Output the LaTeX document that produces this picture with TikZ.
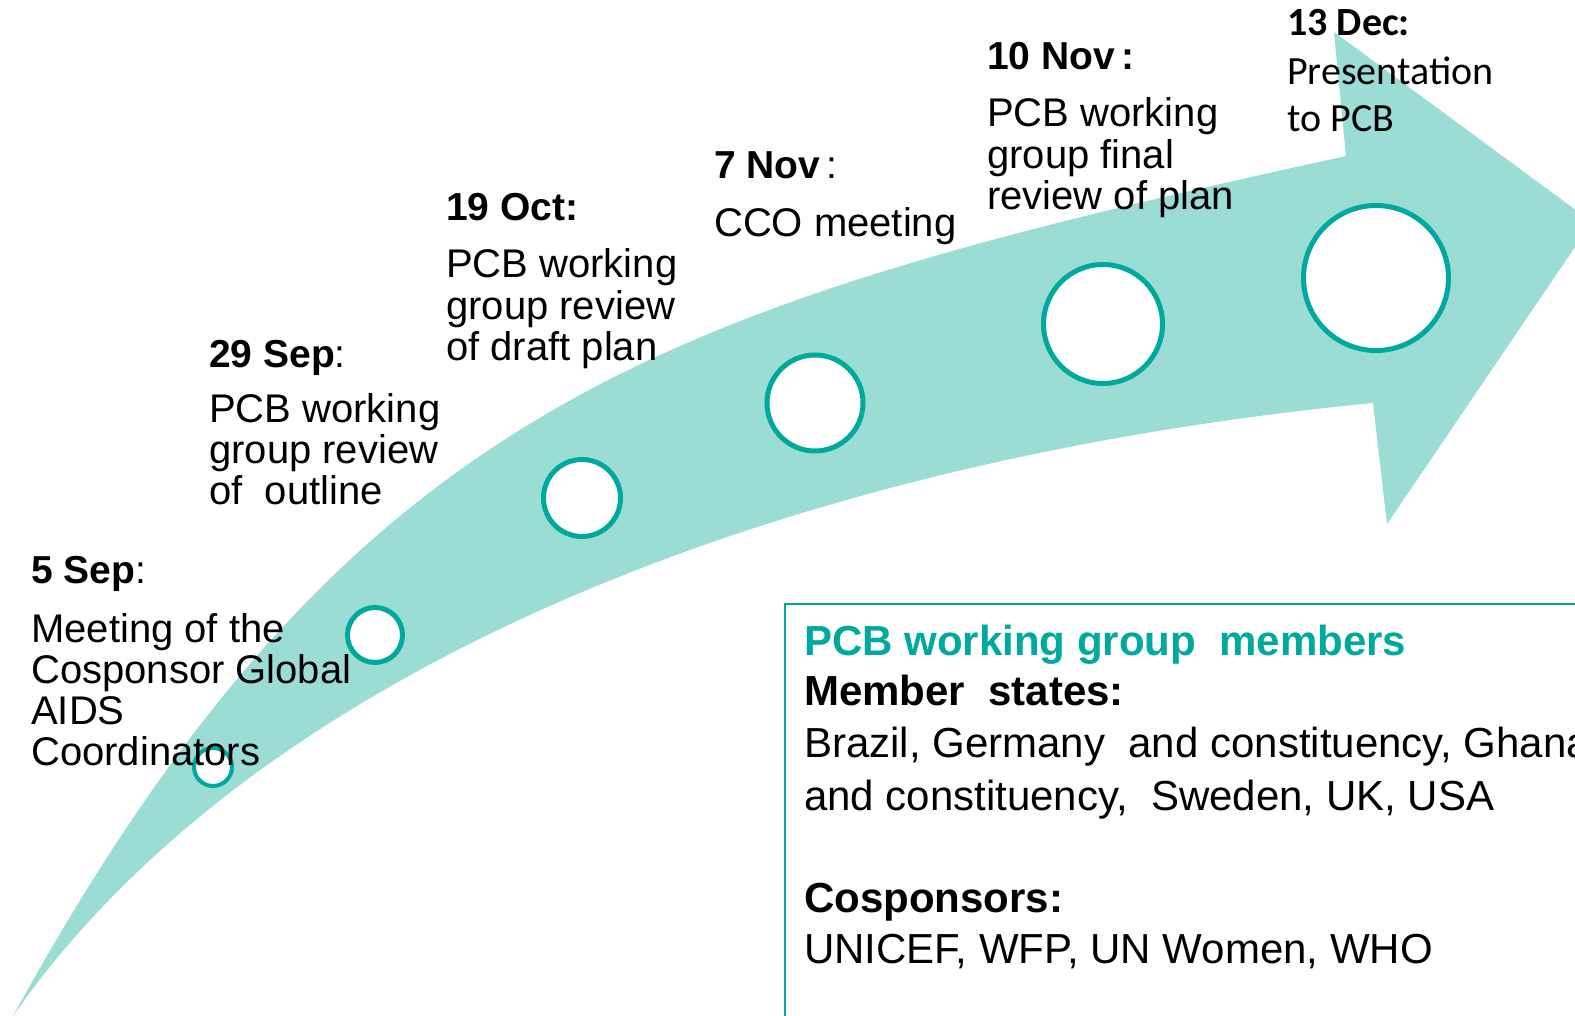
\documentclass[tikz,border=0pt]{standalone}
\usepackage{fontspec}
\setmainfont{Liberation Sans}
\newfontfamily\carlito{Carlito}
\definecolor{arrowfill}{RGB}{155,220,213}
\definecolor{ringteal}{RGB}{0,169,157}
\newcommand{\stack}[1]{\begin{tabular}[t]{@{}l@{}}#1\end{tabular}}
\tikzset{
  ring/.style={circle, draw=ringteal, fill=white, line width=5pt, inner sep=0pt},
  datelabel/.style={anchor=base west, inner sep=0pt, font=\fontsize{39}{41}\selectfont},
  bodytext/.style={anchor=base west, inner sep=0pt, font=\fontsize{40}{41}\selectfont},
  calibritext/.style={anchor=base west, inner sep=0pt, font=\carlito\fontsize{40}{47}\selectfont},
  boxtext/.style={anchor=base west, inner sep=0pt, font=\fontsize{42}{52}\selectfont},
}
\begin{document}
\begin{tikzpicture}[x=1pt, y=-1pt]
  % page area
  \fill[white] (0,0) rectangle (1575,1016);
  \useasboundingbox (0,0) rectangle (1575,1016);

  % curved timeline arrow
  \fill[arrowfill] (13,1016)
    .. controls (351,402) and (662,306) .. (1346,156)
    -- (1334,32) -- (1592,222) -- (1387,524) -- (1373,403)
    .. controls (776,461) and (253,671) .. (13,1016) -- cycle;

  % milestone rings
  \node[ring, line width=4pt, minimum size=38pt] (r1) at (213,767) {};
  \node[ring, minimum size=55pt]  (r2) at (375,635) {};
  \node[ring, minimum size=77pt]  (r3) at (582,498) {};
  \node[ring, minimum size=96pt]  (r4) at (815,403) {};
  \node[ring, minimum size=119pt] (r5) at (1103,324) {};
  \node[ring, minimum size=145pt] (r6) at (1376,278) {};

  % milestone labels
  \node[datelabel] (d1) at (31,583) {\textbf{5 Sep}:};
  \node[bodytext]  (t1) at (31,642) {\stack{Meeting of the\\Cosponsor Global\\AIDS\\Coordinators}};

  \node[datelabel] (d2) at (209,368) {\textbf{29 Sep}:};
  \node[bodytext]  (t2) at (209,422) {\stack{PCB working\\group review\\of\ \ outline}};

  \node[datelabel] (d3) at (446,221) {\textbf{19 Oct:}};
  \node[bodytext]  (t3) at (446,278) {\stack{PCB working\\group review\\of draft plan}};

  \node[datelabel] (d4) at (714,179) {\textbf{7 Nov}\,:};
  \node[bodytext]  (t4) at (714,237) {CCO meeting};

  \node[datelabel] (d5) at (987,70) {\textbf{10 Nov\,:}};
  \node[bodytext]  (t5) at (987,127) {\stack{PCB working\\group final\\review of plan}};

  \node[calibritext] (d6) at (1287,36) {\textbf{13 Dec:}};
  \node[calibritext] (t6) at (1287,85) {\stack{Presentation\\to PCB}};

  % members box
  \draw[ringteal, line width=2pt] (785,604) rectangle (1610,1040);
  \node[boxtext, text=ringteal] (bt) at (804,655) {\textbf{PCB working group\ \ members}};
  \node[boxtext] (b1) at (804,705) {\textbf{Member\ \ states:}};
  \node[boxtext] (b2) at (804,757) {Brazil, Germany\ \ and constituency, Ghana};
  \node[boxtext] (b3) at (804,810) {and constituency,\ \ Sweden, UK, USA};
  \node[boxtext] (b4) at (804,912) {\textbf{Cosponsors:}};
  \node[boxtext] (b5) at (804,963) {UNICEF, WFP, UN Women, WHO};
\end{tikzpicture}
\end{document}
